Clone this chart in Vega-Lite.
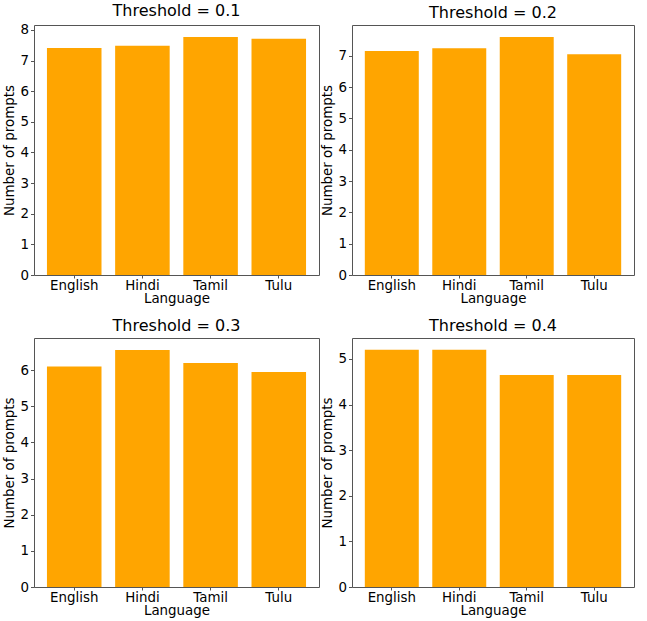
{
  "$schema": "https://vega.github.io/schema/vega-lite/v6.json",
  "background": "white",
  "padding": {"left": 2, "top": 2, "right": 0, "bottom": 0},
  "data": {"values": [
    {"panel": "a", "language": "English", "prompts": 7.41},
    {"panel": "a", "language": "Hindi", "prompts": 7.48},
    {"panel": "a", "language": "Tamil", "prompts": 7.77},
    {"panel": "a", "language": "Tulu", "prompts": 7.71},
    {"panel": "b", "language": "English", "prompts": 7.15},
    {"panel": "b", "language": "Hindi", "prompts": 7.24},
    {"panel": "b", "language": "Tamil", "prompts": 7.6},
    {"panel": "b", "language": "Tulu", "prompts": 7.05},
    {"panel": "c", "language": "English", "prompts": 6.1},
    {"panel": "c", "language": "Hindi", "prompts": 6.56},
    {"panel": "c", "language": "Tamil", "prompts": 6.2},
    {"panel": "c", "language": "Tulu", "prompts": 5.95},
    {"panel": "d", "language": "English", "prompts": 5.2},
    {"panel": "d", "language": "Hindi", "prompts": 5.2},
    {"panel": "d", "language": "Tamil", "prompts": 4.65},
    {"panel": "d", "language": "Tulu", "prompts": 4.65}
  ]},
  "config": {
    "font": "DejaVu Sans",
    "view": {"stroke": "#555", "strokeWidth": 1},
    "axis": {
      "labelFont": "DejaVu Sans", "labelFontSize": 13.4, "labelColor": "#000",
      "titleFont": "DejaVu Sans", "titleFontSize": 13.4, "titleFontWeight": "normal", "titleColor": "#000",
      "tickColor": "#555", "tickSize": 3.5, "domain": false, "grid": false, "labelPadding": 2, "titlePadding": 3
    },
    "axisX": {"labelPadding": 0.5, "titlePadding": 0, "tickSize": 3},
    "title": {"font": "DejaVu Sans", "fontSize": 16, "fontWeight": "normal", "color": "#000", "offset": 4}
  },
  "spacing": 11,
  "vconcat": [
    {
      "spacing": 0,
      "hconcat": [
        {
          "title": "Threshold = 0.1", "width": 285, "height": 250,
          "transform": [{"filter": "datum.panel == 'a'"}],
          "mark": {"type": "bar", "color": "#FFA500"},
          "encoding": {
            "x": {"field": "language", "type": "nominal", "sort": ["English", "Hindi", "Tamil", "Tulu"], "scale": {"paddingInner": 0.2, "paddingOuter": 0.19}, "axis": {"labelAngle": 0, "title": "Language"}},
            "y": {"field": "prompts", "type": "quantitative", "scale": {"domain": [0, 8.16], "nice": false}, "axis": {"values": [0, 1, 2, 3, 4, 5, 6, 7, 8], "format": "d", "title": "Number of prompts"}}
          }
        },
        {
          "title": "Threshold = 0.2", "width": 282, "height": 250,
          "transform": [{"filter": "datum.panel == 'b'"}],
          "mark": {"type": "bar", "color": "#FFA500"},
          "encoding": {
            "x": {"field": "language", "type": "nominal", "sort": ["English", "Hindi", "Tamil", "Tulu"], "scale": {"paddingInner": 0.2, "paddingOuter": 0.19}, "axis": {"labelAngle": 0, "title": "Language"}},
            "y": {"field": "prompts", "type": "quantitative", "scale": {"domain": [0, 7.98], "nice": false}, "axis": {"values": [0, 1, 2, 3, 4, 5, 6, 7], "format": "d", "title": "Number of prompts"}}
          }
        }
      ]
    },
    {
      "spacing": 0,
      "hconcat": [
        {
          "title": "Threshold = 0.3", "width": 285, "height": 249,
          "transform": [{"filter": "datum.panel == 'c'"}],
          "mark": {"type": "bar", "color": "#FFA500"},
          "encoding": {
            "x": {"field": "language", "type": "nominal", "sort": ["English", "Hindi", "Tamil", "Tulu"], "scale": {"paddingInner": 0.2, "paddingOuter": 0.19}, "axis": {"labelAngle": 0, "title": "Language"}},
            "y": {"field": "prompts", "type": "quantitative", "scale": {"domain": [0, 6.89], "nice": false}, "axis": {"values": [0, 1, 2, 3, 4, 5, 6], "format": "d", "title": "Number of prompts"}}
          }
        },
        {
          "title": "Threshold = 0.4", "width": 282, "height": 249,
          "transform": [{"filter": "datum.panel == 'd'"}],
          "mark": {"type": "bar", "color": "#FFA500"},
          "encoding": {
            "x": {"field": "language", "type": "nominal", "sort": ["English", "Hindi", "Tamil", "Tulu"], "scale": {"paddingInner": 0.2, "paddingOuter": 0.19}, "axis": {"labelAngle": 0, "title": "Language"}},
            "y": {"field": "prompts", "type": "quantitative", "scale": {"domain": [0, 5.46], "nice": false}, "axis": {"values": [0, 1, 2, 3, 4, 5], "format": "d", "title": "Number of prompts"}}
          }
        }
      ]
    }
  ]
}
